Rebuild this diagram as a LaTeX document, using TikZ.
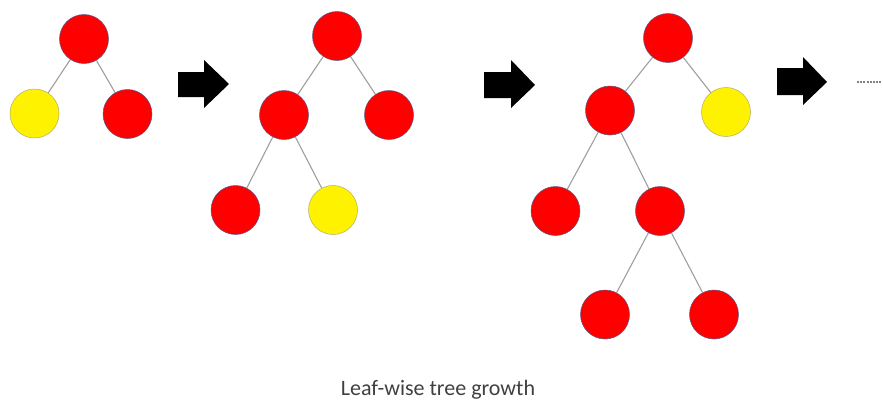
\documentclass[tikz,border=0pt]{standalone}
\usepackage{fontspec}
\setmainfont{Carlito}
\usetikzlibrary{backgrounds}
\begin{document}
\begin{tikzpicture}[x=1pt,y=-1pt,
  rednode/.style={circle,fill=red,draw=black!35!blue!30!gray,line width=0.5pt,minimum size=49pt,inner sep=0pt},
  yelnode/.style={rednode,fill=yellow,draw=black!25!yellow!60!gray},
  edge/.style={draw=black!38,line width=1.1pt},
  blockarrow/.style={fill=black,draw=none}]
\useasboundingbox (0,0) rectangle (883,399);
% tree 1
\node[rednode] (a1) at (84,39) {};
\node[yelnode] (a2) at (34.5,113.5) {};
\node[rednode] (a3) at (127.5,114) {};
% tree 2
\node[rednode] (b1) at (337,36) {};
\node[rednode] (b2) at (284,115) {};
\node[rednode] (b3) at (389,115) {};
\node[rednode] (b4) at (235.5,210) {};
\node[yelnode] (b5) at (333,210) {};
% tree 3
\node[rednode] (c1) at (668,38) {};
\node[rednode] (c2) at (610,110.5) {};
\node[yelnode] (c3) at (726,112) {};
\node[rednode] (c4) at (555.5,211) {};
\node[rednode] (c5) at (660,211) {};
\node[rednode] (c6) at (605,314.5) {};
\node[rednode] (c7) at (714,314.5) {};
% edges behind the nodes
\begin{scope}[on background layer]
\path[edge] (a1) -- (a2) (a1) -- (a3);
\path[edge] (b1) -- (b2) (b1) -- (b3) (b2) -- (b4) (b2) -- (b5);
\path[edge] (c1) -- (c2) (c1) -- (c3) (c2) -- (c4) (c2) -- (c5) (c5) -- (c6) (c5) -- (c7);
\end{scope}
% block arrows
\path[blockarrow] (178,72) -- (204,72) -- (204,60) -- (229,84) -- (204,108) -- (204,97) -- (178,97) -- cycle;
\path[blockarrow] (484,72) -- (511,72) -- (511,60) -- (535,85) -- (511,108) -- (511,98) -- (484,98) -- cycle;
\path[blockarrow] (777,68) -- (803,68) -- (803,57) -- (827,82) -- (803,105) -- (803,95) -- (777,95) -- cycle;
% continuation dots
\coordinate (d1) at (857,82);
\coordinate (d2) at (883,82);
\draw[black!50,line width=1.2pt,dash pattern=on 2pt off 1.2pt] (d1) -- (d2);
% caption
\node[anchor=base,text=black!75,font=\fontsize{22}{26}\selectfont,inner sep=0pt] (cap) at (438,395) {Leaf-wise tree growth};
\end{tikzpicture}
\end{document}
